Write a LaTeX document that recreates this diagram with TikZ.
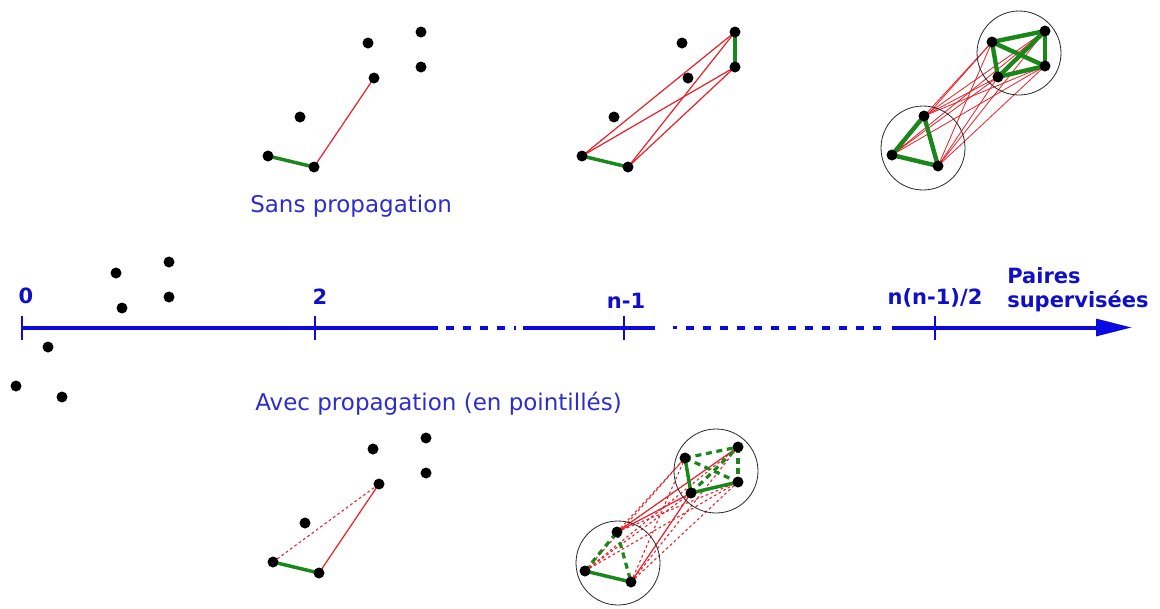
\documentclass[tikz,border=0pt]{standalone}
\usepackage{fontspec}
\setmainfont{DejaVu Sans}
\usetikzlibrary{arrows.meta}
\definecolor{axisblue}{RGB}{10,10,225}
\definecolor{txtblue}{RGB}{45,45,205}
\definecolor{lblblue}{RGB}{15,15,200}
\definecolor{edgegreen}{RGB}{25,135,25}
\definecolor{edgered}{RGB}{235,30,40}
\pgfdeclarelayer{edges}
\pgfsetlayers{edges,main}
\newcommand\ptgroup[3]{%
  \node[pt] (#1a) at (#2,#3) {};
  \node[pt] (#1b) at ({#2+46},{#3+11}) {};
  \node[pt] (#1c) at ({#2+32},{#3-39}) {};
  \node[pt] (#1d) at ({#2+106},{#3-78}) {};
  \node[pt] (#1e) at ({#2+100},{#3-113}) {};
  \node[pt] (#1f) at ({#2+153},{#3-124}) {};
  \node[pt] (#1g) at ({#2+153},{#3-89}) {};
}
\begin{document}
\begin{tikzpicture}[x=0.75pt,y=-0.75pt,
  pt/.style={circle,fill=black,inner sep=0pt,minimum size=8.25pt},
  ring/.style={circle,draw=black!85,line width=0.6pt,minimum size=63pt,inner sep=0pt},
  ml/.style={draw=edgegreen,line width=2.6pt},
  mlthick/.style={draw=edgegreen,line width=3.3pt},
  mldash/.style={draw=edgegreen,line width=2.4pt,dash pattern=on 4.5pt off 3.5pt},
  cl/.style={draw=edgered,line width=0.9pt},
  clthin/.style={draw=edgered,line width=0.6pt},
  cldot/.style={draw=edgered,line width=0.8pt,dash pattern=on 2pt off 2pt},
  axisline/.style={draw=axisblue,line width=3pt},
  axisdash/.style={draw=axisblue,line width=3pt,dash pattern=on 6pt off 6.75pt},
  tickmark/.style={draw=axisblue,line width=2pt},
  ticklbl/.style={text=lblblue,font=\bfseries\fontsize{15.75}{18}\selectfont,inner sep=0pt},
  caption/.style={text=txtblue,font=\fontsize{17.25}{20}\selectfont,inner sep=0pt,anchor=base west},
]
\useasboundingbox (0,0) rectangle (1160,608);

% ---------- axis ----------
\coordinate (t0) at (22,327.5);
\coordinate (s1) at (438,327.5);
\coordinate (d1s) at (446,327.5);
\coordinate (d1e) at (516,327.5);
\coordinate (s2a) at (523,327.5);
\coordinate (t2) at (315,327.5);
\coordinate (tn) at (624,327.5);
\coordinate (s2b) at (655,327.5);
\coordinate (axdot) at (675,327.5);
\coordinate (d2s) at (686,327.5);
\coordinate (d2e) at (884,327.5);
\coordinate (s3) at (892,327.5);
\coordinate (tnn) at (935,327.5);
\coordinate (tip) at (1132,327.5);

\draw[axisline] (t0) -- (s1);
\draw[axisdash] (d1s) -- (d1e);
\draw[axisline] (s2a) -- (s2b);
\fill[axisblue] ([xshift=-1.2pt,yshift=-1.2pt]axdot) rectangle ([xshift=1.2pt,yshift=1.2pt]axdot);
\draw[axisdash] (d2s) -- (d2e);
\draw[axisline,-{Triangle[length=27pt,width=12.5pt]}] (s3) -- (tip);
\foreach \t in {t0,t2,tn,tnn}
  \draw[tickmark] ([yshift=9pt]\t) -- ([yshift=-9pt]\t);

\node[ticklbl,anchor=base] (l0) at (26,303) {0};
\node[ticklbl,anchor=base] (l2) at (320,304) {2};
\node[ticklbl,anchor=base] (ln) at (626,308) {n-1};
\node[ticklbl,anchor=base] (lnn) at (935,304) {n(n-1)/2};
\node[ticklbl,anchor=base west] (lp1) at (1007,283) {Paires};
\node[ticklbl,anchor=base west] (lp2) at (1007,307) {supervisées};

\node[caption] (cap1) at (250,212) {Sans propagation};
\node[caption] (cap2) at (255,410) {Avec propagation (en pointillés)};

% ---------- point sets ----------
\ptgroup{L}{16}{386}
\ptgroup{ta}{268}{156}
\ptgroup{tb}{582}{156}
\ptgroup{tc}{892}{155}
\ptgroup{ba}{273}{562}
\ptgroup{bb}{585}{571}

\node[ring] (r1) at (923,148) {};
\node[ring] (r2) at (1019,53) {};
\node[ring] (r3) at (618,563) {};
\node[ring] (r4) at (716,471) {};

\begin{pgfonlayer}{edges}
  % top 1
  \draw[ml] (taa.center) -- (tab.center);
  \draw[cl] (tab.center) -- (tad.center);
  % top 2
  \draw[ml] (tba.center) -- (tbb.center);
  \draw[ml] (tbf.center) -- (tbg.center);
  \foreach \u/\v in {a/f,a/g,b/f,b/g}
    \draw[cl] (tb\u.center) -- (tb\v.center);
  % top 3
  \foreach \u in {a,b,c}
    \foreach \v in {d,e,f,g}
      \draw[clthin] (tc\u.center) -- (tc\v.center);
  \foreach \u/\v in {a/b,a/c,b/c,d/e,e/f,f/g,g/d,e/g,d/f}
    \draw[mlthick] (tc\u.center) -- (tc\v.center);
  % bottom 1
  \draw[cldot] (baa.center) -- (bad.center);
  \draw[cl] (bab.center) -- (bad.center);
  \draw[ml] (baa.center) -- (bab.center);
  % bottom 2
  \foreach \u/\v in {a/d,a/e,a/f,a/g,b/e,b/f,b/g,c/e,c/g}
    \draw[cldot] (bb\u.center) -- (bb\v.center);
  \foreach \u/\v in {c/f,c/d,b/d}
    \draw[cl] (bb\u.center) -- (bb\v.center);
  \foreach \u/\v in {a/c,c/b,e/f,f/g,e/g,d/f}
    \draw[mldash] (bb\u.center) -- (bb\v.center);
  \foreach \u/\v in {a/b,e/d,d/g}
    \draw[ml] (bb\u.center) -- (bb\v.center);
\end{pgfonlayer}
\end{tikzpicture}
\end{document}
